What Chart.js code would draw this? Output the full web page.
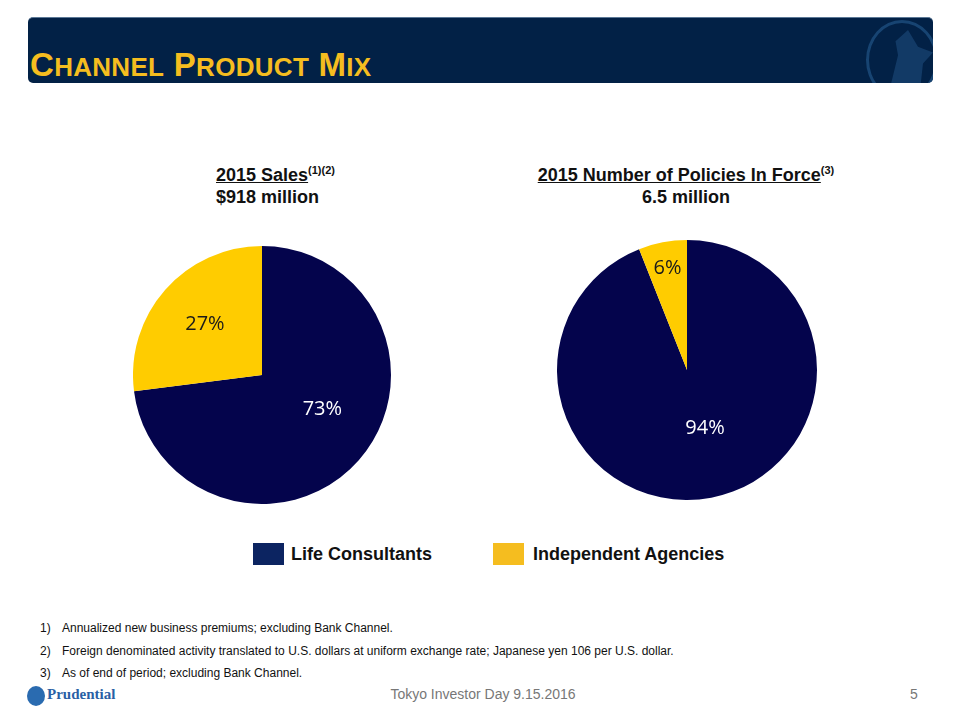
<!DOCTYPE html>
<html>
<head>
<meta charset="utf-8">
<script src="https://cdn.jsdelivr.net/npm/chart.js@4"></script>
<style>
  body { margin: 0; width: 960px; height: 720px; background: #fff; position: relative; overflow: hidden; font-family: 'Liberation Sans', Arial, sans-serif; }
  .abs { position: absolute; }
  #header { left: 28px; top: 17px; width: 905px; height: 66px; background: #022146; border-radius: 5px; border-top: 1px solid #5b7896; box-sizing: border-box; overflow: hidden; }
  #header h1 { position: absolute; left: 2px; top: 29px; margin: 0; font-size: 33px; line-height: 36px; font-weight: bold; color: #f5bd1f; white-space: nowrap; letter-spacing: 0.3px; }
  #header h1 small { font-size: 26px; }
  #emblem { position: absolute; left: 838px; top: 2px; width: 72px; height: 80px; border: 3px solid #174472; border-radius: 50%; box-sizing: border-box; }
  #emblem2 { position: absolute; left: 855px; top: 12px; width: 50px; height: 56px; background: #123a66; clip-path: polygon(25% 20%, 50% 0%, 70% 30%, 100% 40%, 80% 60%, 75% 100%, 15% 100%, 30% 45%); }
  .ttl { font-size: 18px; font-weight: bold; color: #111; line-height: 22px; }
  .ttl sup { font-size: 11px; vertical-align: 7px; line-height: 0; }
  .u { text-decoration: underline; }
  .pie { position: absolute; }
  .sw { position: absolute; width: 31px; height: 22px; }
  .lg { position: absolute; font-size: 18px; font-weight: bold; color: #111; }
  .fn { position: absolute; font-size: 12px; color: #111; }
  .fn span { position: absolute; left: 0; }
  .fn b { font-weight: normal; position: absolute; left: 22px; white-space: nowrap; }
</style>
</head>
<body>
<div id="header" class="abs">
  <div id="emblem"></div>
  <div id="emblem2"></div>
  <h1>C<small>HANNEL</small> P<small>RODUCT</small> M<small>IX</small></h1>
</div>

<div class="abs ttl" style="left:216px; top:164px;"><span class="u">2015 Sales</span><sup>(1)(2)</sup><br>$918 million</div>
<div class="abs ttl" style="left:486px; top:164px; width:400px; text-align:center;"><span class="u">2015 Number of Policies In Force</span><sup>(3)</sup><br>6.5 million</div>

<div class="pie" style="left:133px; top:246px; width:258px; height:258px;"><canvas id="salesPie"></canvas></div>
<div class="pie" style="left:557px; top:240px; width:260px; height:260px;"><canvas id="policiesPie"></canvas></div>

<div class="sw" style="left:253px; top:543px; background:#0c2461;"></div>
<div class="lg" style="left:291px; top:544px;">Life Consultants</div>
<div class="sw" style="left:493px; top:543px; background:#f5bd1f;"></div>
<div class="lg" style="left:533px; top:544px;">Independent Agencies</div>

<div class="fn" style="left:40px; top:621px;"><span>1)</span><b>Annualized new business premiums; excluding Bank Channel.</b></div>
<div class="fn" style="left:40px; top:644px;"><span>2)</span><b>Foreign denominated activity translated to U.S. dollars at uniform exchange rate; Japanese yen 106 per U.S. dollar.</b></div>
<div class="fn" style="left:40px; top:666px;"><span>3)</span><b>As of end of period; excluding Bank Channel.</b></div>

<div class="abs" style="left:27px; top:686px; width:18px; height:20px; border-radius:50%; background:#2a6bb0;"></div>
<div class="abs" style="left:47px; top:686px; font-family:'Liberation Serif', serif; font-weight:bold; font-size:15px; color:#2a5fa5;">Prudential</div>
<div class="abs" style="left:383px; top:686px; width:200px; text-align:center; font-size:14px; color:#777;">Tokyo Investor Day 9.15.2016</div>
<div class="abs" style="left:910px; top:686px; font-size:14px; color:#777;">5</div>

<script>
const channels = ['Life Consultants', 'Independent Agencies'];
const salesShare = [73, 27];
const policiesShare = [94, 6];

const NAVY = '#04044c';
const GOLD = '#ffcc00';

// draws "73%" etc inside the slices; radius fraction per slice
const sliceLabels = {
  id: 'sliceLabels',
  afterDatasetsDraw(chart, args, opts) {
    const { ctx } = chart;
    const meta = chart.getDatasetMeta(0);
    const values = chart.data.datasets[0].data;
    ctx.save();
    ctx.font = '20px "Open Sans", sans-serif';
    ctx.textAlign = 'center';
    ctx.textBaseline = 'middle';
    meta.data.forEach((arc, i) => {
      const a = (arc.startAngle + arc.endAngle) / 2 + (opts.shift[i] || 0);
      const r = arc.outerRadius * opts.radius[i];
      ctx.fillStyle = opts.colors[i];
      ctx.fillText(values[i] + '%', arc.x + Math.cos(a) * r, arc.y + Math.sin(a) * r);
    });
    ctx.restore();
  },
};

function makePie(id, values, radius, shift) {
  return new Chart(document.getElementById(id), {
    type: 'pie',
    data: {
      labels: channels,
      datasets: [{
        data: values,
        backgroundColor: [NAVY, GOLD],
        borderWidth: 0,
      }],
    },
    options: {
      responsive: true,
      maintainAspectRatio: false,
      animation: false,
      layout: { padding: 0 },
      plugins: {
        legend: { display: false },
        tooltip: { enabled: false },
        sliceLabels: { radius, shift, colors: ['#ffffff', '#1a1a1a'] },
      },
    },
    plugins: [sliceLabels],
  });
}

makePie('salesPie', salesShare, [0.54, 0.59], [-0.2, 0]);
makePie('policiesPie', policiesShare, [0.47, 0.8], [-0.11, 0]);
</script>
</body>
</html>
